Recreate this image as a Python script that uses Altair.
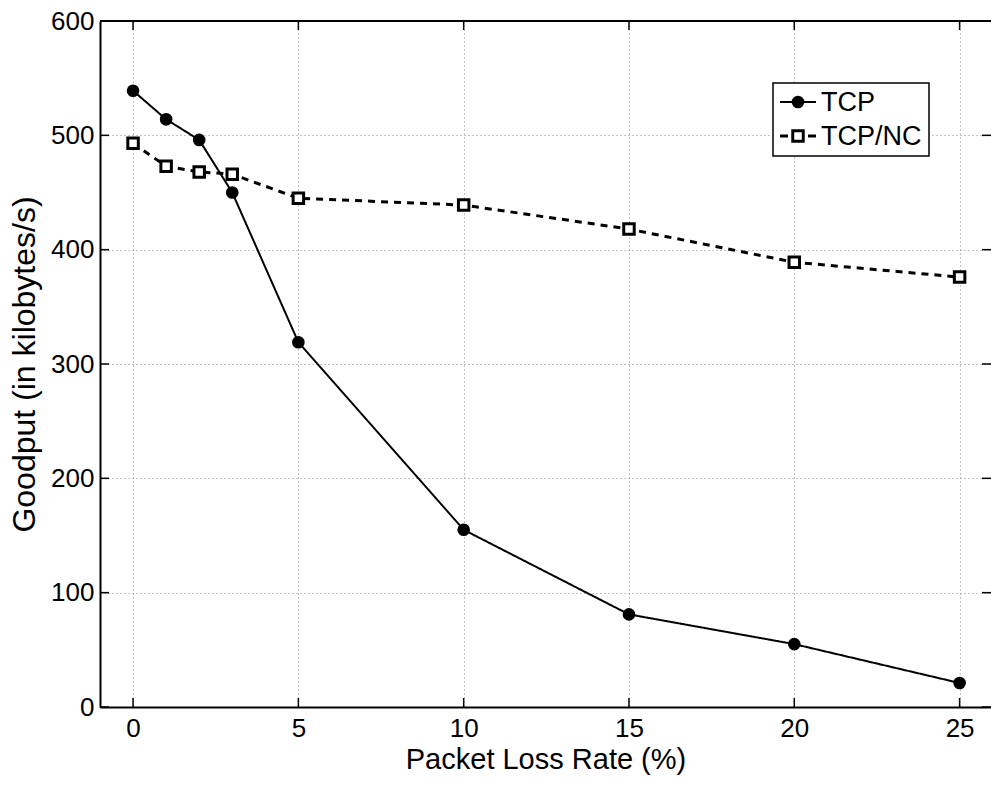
import altair as alt
import pandas as pd

loss = [0, 1, 2, 3, 5, 10, 15, 20, 25]
tcp = [539, 514, 496, 450, 319, 155, 81, 55, 21]
tcp_nc = [493, 473, 468, 466, 445, 439, 418, 389, 376]
x_ticks = [0, 5, 10, 15, 20, 25]
y_ticks = [0, 100, 200, 300, 400, 500, 600]
series = ["TCP", "TCP/NC"]

W, H = 891, 686
FONT = "Liberation Sans"

# legend layout (pixels inside the plot area)
LEG_X0, LEG_X1, LEG_Y0, LEG_Y1 = 673, 829, 62, 135
LEG_ROWS = [81, 115]
LEG_LINE = (680, 716)
LEG_MARK = 698
LEG_TEXT = 721

df = pd.DataFrame({
    "loss": loss * 2,
    "goodput": tcp + tcp_nc,
    "series": [series[0]] * len(loss) + [series[1]] * len(loss),
})

xs = alt.Scale(domain=[-1, 25.95], nice=False, zero=False)
ys = alt.Scale(domain=[0, 600], nice=False)

common = dict(grid=True, gridDash=[1, 3], gridColor="#888", gridWidth=1,
              ticks=False, labelFontSize=26,
              labelFont=FONT, titleFont=FONT, labelColor="black",
              titleColor="black", titleFontWeight="normal",
              domainColor="black", domainWidth=2)
x_axis = alt.Axis(values=x_ticks, title="Packet Loss Rate (%)", titleFontSize=29,
                  labelPadding=8, titlePadding=4, **common)
y_axis = alt.Axis(values=y_ticks, title="Goodput (in kilobytes/s)", titleFontSize=32,
                  labelPadding=6, titlePadding=9, **common)

lines = alt.Chart(df).mark_line(color="black").encode(
    x=alt.X("loss:Q", scale=xs, axis=x_axis),
    y=alt.Y("goodput:Q", scale=ys, axis=y_axis),
    detail="series:N",
    strokeDash=alt.StrokeDash("series:N", scale=alt.Scale(domain=series, range=[[1, 0], [7, 6]]), legend=None),
    strokeWidth=alt.StrokeWidth("series:N", scale=alt.Scale(domain=series, range=[2, 3]), legend=None),
)

tcp_pts = alt.Chart(df[df.series == "TCP"]).mark_point(
    shape="circle", filled=True, color="black", size=160, opacity=1
).encode(x=alt.X("loss:Q", scale=xs), y=alt.Y("goodput:Q", scale=ys))

nc_pts = alt.Chart(df[df.series == "TCP/NC"]).mark_point(
    shape="square", filled=False, stroke="black", fill="white", fillOpacity=1,
    strokeWidth=3, size=110, opacity=1
).encode(x=alt.X("loss:Q", scale=xs), y=alt.Y("goodput:Q", scale=ys))

xt_df = pd.DataFrame({"v": x_ticks})
yt_df = pd.DataFrame({"v": y_ticks})
xt_bottom = alt.Chart(xt_df).mark_rule(color="black", strokeWidth=1.5).encode(
    x=alt.X("v:Q", scale=xs), y=alt.value(H), y2=alt.value(H - 9))
xt_top = alt.Chart(xt_df).mark_rule(color="black", strokeWidth=1.5).encode(
    x=alt.X("v:Q", scale=xs), y=alt.value(0), y2=alt.value(9))
yt_left = alt.Chart(yt_df).mark_rule(color="black", strokeWidth=1.5).encode(
    y=alt.Y("v:Q", scale=ys), x=alt.value(0), x2=alt.value(9))
yt_right = alt.Chart(yt_df).mark_rule(color="black", strokeWidth=1.5).encode(
    y=alt.Y("v:Q", scale=ys), x=alt.value(W - 9), x2=alt.value(W))
top_line = alt.Chart(pd.DataFrame({"a": [0]})).mark_rule(color="black", strokeWidth=2).encode(
    x=alt.value(0), x2=alt.value(W), y=alt.value(0))

# manual legend
leg_df = pd.DataFrame({"series": series, "py": LEG_ROWS})
leg_box = alt.Chart(pd.DataFrame({"a": [0]})).mark_rect(
    fill="white", stroke="black", strokeWidth=1.5
).encode(x=alt.value(LEG_X0), x2=alt.value(LEG_X1), y=alt.value(LEG_Y0), y2=alt.value(LEG_Y1))
leg_line1 = alt.Chart(leg_df[leg_df.series == "TCP"]).mark_rule(color="black", strokeWidth=2).encode(
    x=alt.value(LEG_LINE[0]), x2=alt.value(LEG_LINE[1]), y=alt.Y("py:Q", scale=None))
leg_line2 = alt.Chart(leg_df[leg_df.series == "TCP/NC"]).mark_rule(
    color="black", strokeWidth=3, strokeDash=[8, 20]
).encode(x=alt.value(LEG_LINE[0]), x2=alt.value(LEG_LINE[1]), y=alt.Y("py:Q", scale=None))
leg_pt1 = alt.Chart(leg_df[leg_df.series == "TCP"]).mark_point(
    shape="circle", filled=True, color="black", size=160, opacity=1
).encode(x=alt.value(LEG_MARK), y=alt.Y("py:Q", scale=None))
leg_pt2 = alt.Chart(leg_df[leg_df.series == "TCP/NC"]).mark_point(
    shape="square", filled=False, stroke="black", fill="white", fillOpacity=1,
    strokeWidth=3, size=110, opacity=1
).encode(x=alt.value(LEG_MARK), y=alt.Y("py:Q", scale=None))
leg_text = alt.Chart(leg_df).mark_text(
    align="left", baseline="middle", font=FONT, fontSize=27, color="black", dy=1
).encode(x=alt.value(LEG_TEXT), y=alt.Y("py:Q", scale=None), text="series:N")

chart = alt.layer(
    lines, tcp_pts, nc_pts,
    xt_bottom, xt_top, yt_left, yt_right, top_line,
    leg_box, leg_line1, leg_line2, leg_pt1, leg_pt2, leg_text,
).properties(
    width=W, height=H,
    autosize=alt.AutoSizeParams(type="none"),
    padding={"left": 100, "top": 21, "right": 0, "bottom": 78},
).configure_view(stroke=None).configure(background="white")

chart.save("out.html", embed_options={"renderer": "svg", "actions": False})
